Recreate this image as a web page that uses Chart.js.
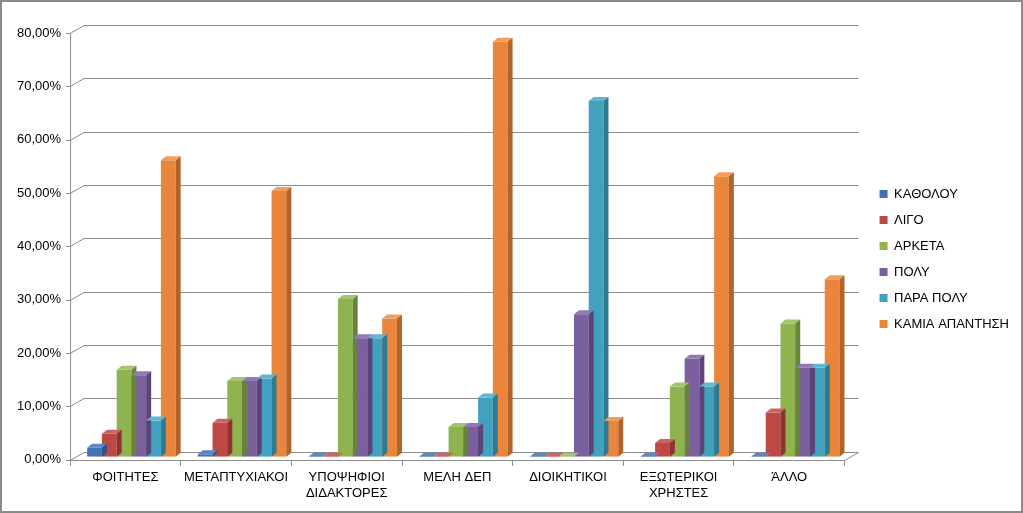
<!DOCTYPE html>
<html lang="el">
<head>
    <meta charset="UTF-8">
    <title>Απαντήσεις ανά κατηγορία</title>
    <script src="https://cdn.jsdelivr.net/npm/chart.js"></script>
    <style>
        html, body {
            margin: 0;
            padding: 0;
            background: #fff;
        }
        .chart-container {
            width: 1023px;
            height: 513px;
            box-sizing: border-box;
            border: 2px solid #8a8a8a;
            position: relative;
        }
    </style>
</head>
<body>
    <div class="chart-container">
        <canvas id="answersChart"></canvas>
    </div>

    <script>
        const categories = ['ΦΟΙΤΗΤΕΣ', 'ΜΕΤΑΠΤΥΧΙΑΚΟΙ', ['ΥΠΟΨΗΦΙΟΙ', 'ΔΙΔΑΚΤΟΡΕΣ'], 'ΜΕΛΗ ΔΕΠ',
            'ΔΙΟΙΚΗΤΙΚΟΙ', ['ΕΞΩΤΕΡΙΚΟΙ', 'ΧΡΗΣΤΕΣ'], 'ΆΛΛΟ'];

        const seriesNames = ['ΚΑΘΟΛΟΥ', 'ΛΙΓΟ', 'ΑΡΚΕΤΑ', 'ΠΟΛΥ', 'ΠΑΡΑ ΠΟΛΥ', 'ΚΑΜΙΑ ΑΠΑΝΤΗΣΗ'];

        const katholou   = [1.7, 0.5, 0, 0, 0, 0, 0];
        const ligo       = [4.3, 6.4, 0, 0, 0, 2.6, 8.3];
        const arketa     = [16.3, 14.2, 29.6, 5.6, 0, 13.2, 25.0];
        const poly       = [15.3, 14.2, 22.2, 5.6, 26.7, 18.4, 16.7];
        const paraPoly   = [6.8, 14.7, 22.2, 11.1, 66.7, 13.2, 16.7];
        const kamiaApant = [55.6, 49.8, 25.9, 77.8, 6.7, 52.6, 33.3];

        const yTicks = [0, 10, 20, 30, 40, 50, 60, 70, 80];

        const faceColors = ['#4272b3', '#bf4744', '#8fb34f', '#7c5f9f', '#41a2c0', '#e9863b'];
        const sideColors = ['#2d5487', '#8f3331', '#68843a', '#5b4577', '#2e7a91', '#b0632a'];
        const topColors  = ['#5b87c2', '#cd6461', '#a6c46d', '#9379b3', '#62b6cf', '#f09e5e'];

        const values = [katholou, ligo, arketa, poly, paraPoly, kamiaApant];

        const FONT = { family: 'Liberation Sans, Arial, sans-serif', size: 13 };

        // depth of the fake 3D walls and of the bars
        const WALL_DX = 14, WALL_DY = 8;
        const BAR_DX = 5, BAR_DY = 4;

        // empty layout box, used to leave room between the plot and the legend
        function spacer(position, size) {
            return {
                position: position,
                weight: 500,
                fullSize: false,
                options: {},
                top: 0, left: 0, right: 0, bottom: 0, width: 0, height: 0,
                isHorizontal() { return position === 'top' || position === 'bottom'; },
                update(maxWidth, maxHeight) {
                    if (this.isHorizontal()) {
                        this.width = maxWidth;
                        this.height = size;
                    } else {
                        this.width = size;
                        this.height = maxHeight;
                    }
                },
                draw() {}
            };
        }

        const spacerPlugin = {
            id: 'spacers',
            beforeInit(chart) {
                Chart.layouts.addBox(chart, spacer('right', 22));
                Chart.layouts.addBox(chart, spacer('top', 20));
            }
        };

        const wallPlugin = {
            id: 'wall',
            beforeDatasetsDraw(chart) {
                const ctx = chart.ctx;
                const y = chart.scales.y;
                const area = chart.chartArea;
                ctx.save();
                ctx.strokeStyle = '#8c8c8c';
                ctx.lineWidth = 1;
                yTicks.forEach(v => {
                    const py = Math.round(y.getPixelForValue(v)) + 0.5;
                    ctx.beginPath();
                    ctx.moveTo(area.left - 4, py);
                    ctx.lineTo(area.left, py);
                    ctx.lineTo(area.left + WALL_DX, py - WALL_DY);
                    ctx.lineTo(area.right + WALL_DX, py - WALL_DY);
                    ctx.stroke();
                });
                // floor, front edge and right edge
                const p0 = Math.round(y.getPixelForValue(0)) + 0.5;
                ctx.beginPath();
                ctx.moveTo(area.left, p0);
                ctx.lineTo(area.right, p0);
                ctx.lineTo(area.right + WALL_DX, p0 - WALL_DY);
                ctx.stroke();
                // front vertical axis
                ctx.beginPath();
                ctx.moveTo(area.left + 0.5, p0);
                ctx.lineTo(area.left + 0.5, Math.round(y.getPixelForValue(80)));
                ctx.stroke();
                ctx.restore();

                ctx.save();
                ctx.translate(6, -3);
            },
            afterDatasetsDraw(chart) {
                const ctx = chart.ctx;
                chart.data.datasets.forEach((ds, i) => {
                    const meta = chart.getDatasetMeta(i);
                    meta.data.forEach(bar => {
                        const { x, y, base, width } = bar.getProps(['x', 'y', 'base', 'width'], true);
                        const l = x - width / 2, r = x + width / 2;
                        ctx.fillStyle = topColors[i];
                        ctx.beginPath();
                        ctx.moveTo(l, y);
                        ctx.lineTo(l + BAR_DX, y - BAR_DY);
                        ctx.lineTo(r + BAR_DX, y - BAR_DY);
                        ctx.lineTo(r, y);
                        ctx.closePath();
                        ctx.fill();
                        ctx.fillStyle = sideColors[i];
                        ctx.beginPath();
                        ctx.moveTo(r, y);
                        ctx.lineTo(r + BAR_DX, y - BAR_DY);
                        ctx.lineTo(r + BAR_DX, base - BAR_DY);
                        ctx.lineTo(r, base);
                        ctx.closePath();
                        ctx.fill();
                    });
                });
                ctx.restore();
            }
        };

        const ctx = document.getElementById('answersChart').getContext('2d');

        new Chart(ctx, {
            type: 'bar',
            data: {
                labels: categories,
                datasets: seriesNames.map((name, i) => ({
                    label: name,
                    data: values[i],
                    backgroundColor: faceColors[i],
                    borderWidth: 0,
                    categoryPercentage: 0.8,
                    barPercentage: 1.0
                }))
            },
            options: {
                responsive: true,
                maintainAspectRatio: false,
                animation: false,
                layout: {
                    padding: { left: 14, right: 2, top: 11, bottom: 6 }
                },
                plugins: {
                    tooltip: { enabled: false },
                    legend: {
                        position: 'right',
                        labels: {
                            boxWidth: 8,
                            boxHeight: 8,
                            padding: 13,
                            color: '#000',
                            font: FONT
                        }
                    }
                },
                scales: {
                    x: {
                        grid: {
                            offset: true,
                            drawOnChartArea: false,
                            tickLength: 6,
                            color: '#8c8c8c'
                        },
                        border: { display: false },
                        ticks: {
                            color: '#000',
                            maxRotation: 0,
                            padding: 4,
                            font: FONT
                        }
                    },
                    y: {
                        min: 0,
                        max: 80,
                        afterBuildTicks(axis) {
                            axis.ticks = yTicks.map(v => ({ value: v }));
                        },
                        grid: { display: false },
                        border: { display: false },
                        ticks: {
                            color: '#000',
                            padding: 1,
                            font: FONT,
                            callback: v => v.toFixed(2).replace('.', ',') + '%'
                        }
                    }
                }
            },
            plugins: [spacerPlugin, wallPlugin]
        });
    </script>
</body>
</html>
